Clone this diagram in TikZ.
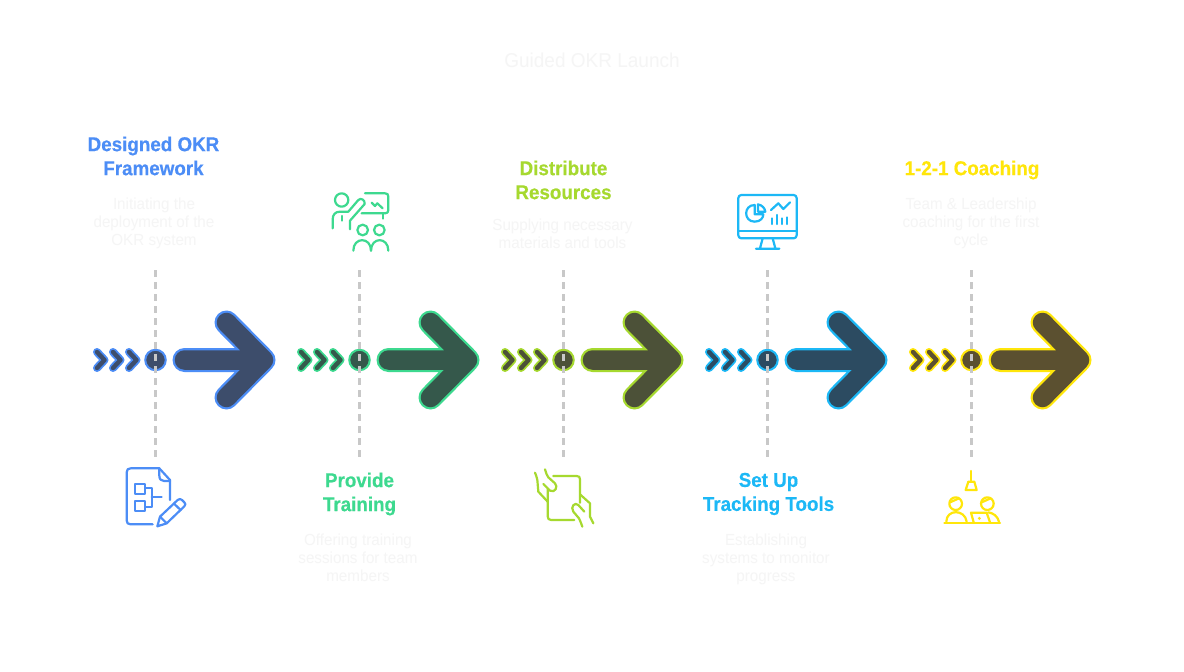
\documentclass[tikz,border=0pt]{standalone}
\usepackage{fontspec}
\setmainfont[FakeStretch=0.95,BoldFont={Liberation Sans Bold},BoldFeatures={FakeStretch=0.94,FakeBold=0.4}]{Liberation Sans}
\definecolor{cblue}{HTML}{4C8DF6}\definecolor{fblue}{HTML}{3D4D6B}
\definecolor{cgreen}{HTML}{3DD98F}\definecolor{fgreen}{HTML}{35584B}
\definecolor{clime}{HTML}{A6D92F}\definecolor{flime}{HTML}{4C5138}
\definecolor{ccyan}{HTML}{1CB8F6}\definecolor{fcyan}{HTML}{2C4B61}
\definecolor{cyell}{HTML}{FFE60A}\definecolor{fyell}{HTML}{5B5030}
\definecolor{faint}{HTML}{F5F5F5}
\definecolor{dashgrey}{HTML}{C8C8C8}
\tikzset{
  headtext/.style={align=center,inner sep=0pt,font=\fontsize{20}{24}\selectfont\bfseries},
  desctext/.style={align=center,inner sep=0pt,text=faint,font=\fontsize{16}{18}\selectfont},
  titletext/.style={inner sep=0pt,text=faint,font=\fontsize{20}{24}\selectfont},
  guide/.style={dashgrey,line width=2.4pt,dash pattern=on 6.5pt off 5.5pt},
  iconline/.style={line width=2.2pt,line cap=round,line join=round},
  iconscale/.style={x=0.33333pt,y=-0.33333pt},
  hub/.style={circle,minimum size=20.5pt,inner sep=0pt,line width=2pt}
}
\begin{document}
\begin{tikzpicture}[x=1pt,y=-1pt]
\useasboundingbox[fill=white] (0,0) rectangle (1184,672);
\node[titletext] (title) at (592,60) {Guided OKR Launch};
% chevrons, big arrows, hubs, guides
\foreach \n/\c/\f in {0/cblue/fblue,1/cgreen/fgreen,2/clime/flime,3/ccyan/fcyan,4/cyell/fyell}{
  \begin{scope}[xshift=\n*204pt]
    \foreach \k in {0,16,32}{
      \draw[\c,line width=8pt,line cap=round,line join=round] (97+\k,352) -- (104.5+\k,360) -- (97+\k,368);
      \draw[\f,line width=4.4pt,line cap=round,line join=round] (97+\k,352) -- (104.5+\k,360) -- (97+\k,368);
    }
    \draw[\c,line width=24pt,line cap=round,line join=round] (184.5,360) -- (263.5,360) (226.5,322.5) -- (263.5,360) -- (226.5,397.5);
    \draw[\f,line width=19.5pt,line cap=round,line join=round] (184.5,360) -- (263.5,360) (226.5,322.5) -- (263.5,360) -- (226.5,397.5);
    \node[hub,draw=\c,fill=\f] (hub\n) at (155.5,360) {};
    \coordinate (up\n) at (155.5,270);
    \coordinate (down\n) at (155.5,458);
    \draw[guide] (up\n) -- (down\n);
  \end{scope}
}
% headings
\node[headtext,text=cblue] (h0) at (153.5,156) {Designed OKR\\Framework};
\node[headtext,text=cgreen] (h1) at (359.5,494) {Provide\\Training};
\node[headtext,text=clime] (h2) at (563.5,180) {Distribute\\Resources};
\node[headtext,text=ccyan] (h3) at (768.5,494) {Set Up\\Tracking Tools};
\node[headtext,text=cyell] (h4) at (972,170) {1-2-1 Coaching};
% descriptions
\node[desctext] (d0) at (154,223.5) {Initiating the\\deployment of the\\OKR system};
\node[desctext] (d1) at (358,558) {Offering training\\sessions for team\\members};
\node[desctext] (d2) at (562.5,234) {Supplying necessary\\materials and tools};
\node[desctext] (d3) at (766,559.5) {Establishing\\systems to monitor\\progress};
\node[desctext] (d4) at (971,223.5) {Team \& Leadership\\coaching for the first\\cycle};
% document icon
\begin{scope}[shift={(110,455)},iconscale]
  \draw[iconline,cblue] (128,208) -- (62,208) .. controls (54,208) and (50,204) .. (50,196) -- (50,52) .. controls (50,44) and (54,40) .. (62,40) -- (148,40) -- (180,75) -- (180,135);
  \draw[iconline,cblue] (148,40) -- (148,62) .. controls (148,72) and (153,78) .. (162,78) -- (180,78);
  \draw[iconline,cblue] (74,87) rectangle (106,116) (74,139) rectangle (106,169);
  \draw[iconline,cblue] (106,100) -- (125,100) -- (125,155) -- (106,155) (125,125) -- (155,125);
  \draw[iconline,cblue] (142,214) -- (150,185) -- (203,135) .. controls (208,131) and (212,131) .. (216,135) -- (223,142) .. controls (227,146) and (227,150) .. (223,154) -- (170,205) -- cycle;
  \draw[iconline,cblue] (150,185) -- (170,205) (192,146) -- (212,165);
\end{scope}
% training icon
\begin{scope}[shift={(320,180)},iconscale]
  \draw[iconline,cgreen] (65,60) circle[radius=20];
  \draw[iconline,cgreen] (38,145) -- (38,118) .. controls (38,104) and (46,95) .. (60,95) -- (85,95) -- (115,60) .. controls (122,52) and (136,60) .. (134,72) -- (90,122) -- (90,148);
  \draw[iconline,cgreen] (65,108) -- (65,122);
  \draw[iconline,cgreen] (135,40) -- (195,40) .. controls (202,40) and (205,43) .. (205,50) -- (205,90) .. controls (205,97) and (202,100) .. (195,100) -- (125,100);
  \draw[iconline,cgreen] (190,100) -- (190,116);
  \draw[iconline,cgreen] (155,68) -- (165,78) -- (172,70) -- (188,85);
  \draw[iconline,cgreen] (128,150) circle[radius=16] (178,150) circle[radius=16];
  \draw[iconline,cgreen] (100,212) .. controls (100,170) and (153,170) .. (153,212);
  \draw[iconline,cgreen] (153,212) .. controls (153,170) and (205,170) .. (205,212);
\end{scope}
% tablet and hands icon
\begin{scope}[shift={(525,460)},iconscale]
  \draw[iconline,clime] (85,48) -- (155,48) .. controls (162,48) and (165,51) .. (165,58) -- (165,128);
  \draw[iconline,clime] (68,88) -- (68,168) .. controls (68,176) and (71,180) .. (78,180) -- (148,180);
  \draw[iconline,clime] (30,38) .. controls (35,50) and (38,60) .. (38,72) -- (40,95) -- (68,125);
  \draw[iconline,clime] (60,28) .. controls (64,40) and (66,48) .. (70,52) -- (90,70) .. controls (100,80) and (90,100) .. (75,92) -- (55,72);
  \draw[iconline,clime] (205,190) -- (195,170) -- (195,130) -- (165,103);
  \draw[iconline,clime] (172,200) .. controls (168,190) and (166,182) .. (162,175) -- (145,155) .. controls (135,140) and (150,125) .. (160,135) -- (178,155);
\end{scope}
% monitor icon
\begin{scope}[shift={(730,185)},iconscale]
  \draw[iconline,ccyan,rounded corners=3pt] (25,30) rectangle (200,160);
  \draw[iconline,ccyan] (25,138) -- (200,138);
  \draw[iconline,ccyan] (98,160) -- (90,190) (128,160) -- (136,190) (78,191) -- (148,191);
  \draw[iconline,ccyan] (74,60) .. controls (40,60) and (40,110) .. (74,110) .. controls (92,110) and (100,98) .. (100,88) -- (74,88) -- cycle;
  \draw[iconline,ccyan] (84,58) .. controls (96,60) and (105,70) .. (106,80) -- (84,80) -- cycle;
  \draw[iconline,ccyan] (123,75) -- (145,55) -- (160,72) -- (180,52);
  \draw[iconline,ccyan] (125,100) -- (125,117) (140,90) -- (140,117) (155,100) -- (155,117) (170,97) -- (170,117);
\end{scope}
% coaching icon
\begin{scope}[shift={(935,465)},iconscale]
  \draw[iconline,cyell] (108,18) -- (108,50);
  \draw[iconline,cyell] (100,50) -- (118,50) -- (125,75) -- (92,75) -- cycle;
  \draw[iconline,cyell] (62,116) circle[radius=19] (157,116) circle[radius=19];
  \draw[iconline,cyell] (45,112) -- (72,100) (140,112) -- (167,100);
  \draw[iconline,cyell] (34,170) .. controls (34,132) and (90,132) .. (95,170);
  \draw[iconline,cyell] (160,142) .. controls (175,144) and (188,154) .. (192,170);
  \draw[iconline,cyell] (28,175) -- (195,175);
  \draw[iconline,cyell] (116,172) -- (108,143) -- (155,143) -- (165,172);
  \fill[cyell] (133,160) circle[radius=5];
\end{scope}
\end{tikzpicture}
\end{document}
